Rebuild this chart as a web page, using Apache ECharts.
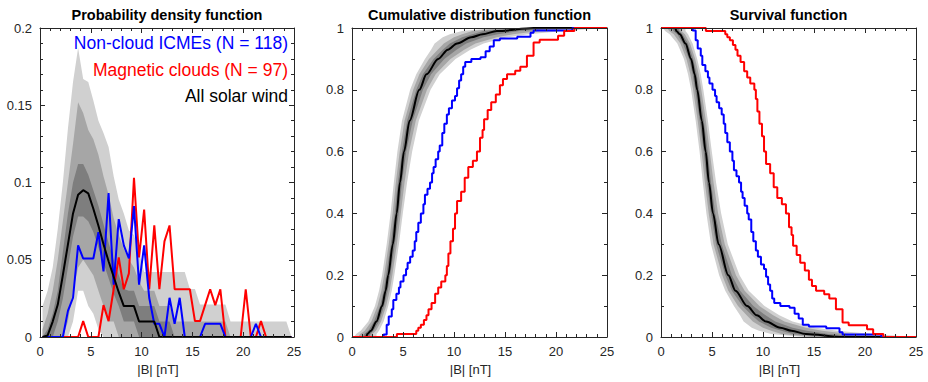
<!DOCTYPE html>
<html><head><meta charset="utf-8">
<script src="https://cdn.jsdelivr.net/npm/echarts@6/dist/echarts.min.js"></script>
<style>html,body{margin:0;padding:0;background:#fff}#c{width:928px;height:382px}</style>
</head><body><div id="c"></div>
<script>
// ---------- PDF panel (bin centres, nT) ----------
const binCenters = [0.25,0.75,1.25,1.75,2.25,2.75,3.25,3.75,4.25,4.75,5.25,5.75,6.25,6.75,7.25,7.75,8.25,8.75,9.25,9.75,10.25,10.75,11.25,11.75,12.25,12.75,13.25,13.75,14.25,14.75,15.25,15.75,16.25,16.75,17.25,17.75,18.25,18.75,19.25,19.75,20.25,20.75,21.25,21.75,22.25,22.75,23.25,23.75,24.25,24.75];
const pdfBlue = [0,0,0,0,0,0.0169,0.0254,0.0593,0.0508,0.0508,0.0508,0.0678,0.0424,0.0932,0.0339,0.0763,0.0593,0.0508,0.0847,0.0339,0.0593,0.0254,0.0085,0.0085,0,0.0254,0.0085,0.0254,0,0,0,0,0.0085,0.0085,0.0085,0.0085,0,0,0,0,0,0,0.0085,0,0,0,0,0,0,0];
const pdfRed = [0,0,0,0,0,0,0,0,0.0103,0,0,0,0.0206,0.0103,0.0309,0.0515,0.0309,0.0412,0.1031,0.0515,0.0825,0.0309,0.0722,0.0309,0.0619,0.0722,0.0309,0.0309,0.0309,0.0309,0.0103,0.0103,0.0206,0.0309,0.0206,0.0309,0,0,0,0,0.0309,0,0,0.0103,0,0,0,0,0,0];
const pdfBlack = [0,0.001,0.01,0.021,0.04,0.06,0.08,0.092,0.095,0.093,0.083,0.072,0.06,0.049,0.039,0.029,0.02,0.02,0.02,0.01,0.01,0.01,0.01,0,0,0,0,0,0,0,0,0,0,0,0,0,0,0,0,0,0,0,0,0,0,0,0,0,0,0];
const pdfLightHi = [0.02,0.03,0.045,0.07,0.1,0.135,0.165,0.187,0.167,0.165,0.153,0.14,0.132,0.123,0.104,0.089,0.08,0.069,0.066,0.055,0.042,0.042,0.042,0.042,0.042,0.042,0.042,0.042,0.042,0.031,0.031,0.021,0.021,0.021,0.021,0.021,0.021,0.01,0.01,0.01,0.01,0.01,0.01,0.01,0.01,0.01,0.01,0.01,0.01,0];
const pdfMedHi = [0.005,0.015,0.03,0.05,0.075,0.1,0.125,0.152,0.145,0.134,0.128,0.118,0.104,0.092,0.077,0.066,0.057,0.05,0.045,0.036,0.03,0.03,0.03,0.02,0.02,0.02,0.01,0.01,0.01,0.01,0.01,0.01,0.01,0.01,0.01,0.01,0.01,0,0,0,0,0,0,0,0,0,0,0,0,0];
const pdfDarkHi = [0,0.005,0.015,0.03,0.055,0.08,0.1,0.112,0.112,0.105,0.095,0.085,0.073,0.061,0.05,0.04,0.031,0.03,0.03,0.02,0.02,0.02,0.02,0.01,0.01,0.01,0,0,0,0,0,0,0,0,0,0,0,0,0,0,0,0,0,0,0,0,0,0,0,0];
const pdfDarkLo = [0,0,0,0.01,0.025,0.045,0.065,0.078,0.078,0.075,0.068,0.058,0.048,0.038,0.028,0.02,0.01,0.01,0.01,0,0,0,0,0,0,0,0,0,0,0,0,0,0,0,0,0,0,0,0,0,0,0,0,0,0,0,0,0,0,0];
const pdfMedLo = [0,0,0,0,0,0.01,0.03,0.045,0.05,0.045,0.04,0.03,0.02,0.01,0.01,0,0,0,0,0,0,0,0,0,0,0,0,0,0,0,0,0,0,0,0,0,0,0,0,0,0,0,0,0,0,0,0,0,0,0];
const pdfLightLo = [0,0,0,0,0,0,0.01,0.03,0.03,0.02,0.015,0.005,0,0,0,0,0,0,0,0,0,0,0,0,0,0,0,0,0,0,0,0,0,0,0,0,0,0,0,0,0,0,0,0,0,0,0,0,0,0];

// ---------- CDF / survival: all solar wind, x (nT) at each cumulative level ----------
const cdfLevels = [0,0.01,0.02,0.05,0.1,0.15,0.2,0.3,0.4,0.5,0.6,0.7,0.8,0.85,0.9,0.93,0.95,0.97,0.98,0.99,1];
const cdfBlackX = [1.4,1.5,1.85,2.4,2.95,3.3,3.55,4.0,4.38,4.7,5.1,5.65,6.6,7.3,8.45,9.4,10.3,11.7,12.8,14.2,17.8];
const cdfLightL = [0.2,0.4,0.85,1.6,2.25,2.65,2.95,3.4,3.78,4.1,4.45,4.9,5.7,6.3,7.15,7.75,8.1,8.9,9.6,10.8,14.0];
const cdfMedL   = [0.6,0.8,1.25,1.9,2.5,2.88,3.15,3.6,3.98,4.3,4.68,5.15,6.0,6.6,7.55,8.4,9.0,10.0,10.8,11.8,14.8];
const cdfDarkL  = [1.1,1.2,1.6,2.15,2.75,3.1,3.35,3.8,4.18,4.5,4.9,5.4,6.3,6.95,8.0,8.9,9.6,10.8,11.8,12.9,16.3];
const cdfDarkR  = [1.7,1.8,2.1,2.65,3.15,3.5,3.75,4.2,4.58,4.9,5.32,5.95,6.95,7.75,9.05,10.25,11.2,12.9,14.3,16.4,20.8];
const cdfMedR   = [2.0,2.0,2.35,2.85,3.35,3.7,3.95,4.4,4.78,5.15,5.6,6.25,7.35,8.2,9.65,11.0,12.1,14.2,15.8,18.4,22.8];
const cdfLightR = [2.4,2.4,2.65,3.1,3.55,3.9,4.15,4.6,4.98,5.4,5.9,6.55,7.7,8.6,10.15,11.6,12.9,15.2,17.3,20.7,24.8];

// ---------- empirical CDF steps (x where the step occurs, level after the step) ----------
const blueStepX = [3.1,3.4,3.6,3.9,4.05,4.35,4.6,4.75,5.05,5.3,5.45,5.7,5.95,6.15,6.3,6.5,6.75,7.0,7.15,7.4,7.65,7.85,8.0,8.2,8.45,8.6,8.85,9.05,9.3,9.5,9.8,10.1,10.3,10.5,10.7,10.9,11.1,11.7,12.6,13.1,13.5,13.9,14.5,16.2,17.5,17.8,21.6];
const blueStepF = [0.008,0.04,0.066,0.09,0.12,0.14,0.16,0.18,0.2,0.22,0.24,0.26,0.28,0.31,0.34,0.37,0.4,0.43,0.46,0.48,0.5,0.53,0.55,0.575,0.6,0.62,0.66,0.69,0.72,0.74,0.765,0.78,0.805,0.83,0.85,0.875,0.89,0.9,0.905,0.925,0.94,0.96,0.966,0.972,0.985,0.992,1.0];
const redStepX = [4.4,6.3,6.5,6.75,7.05,7.3,7.5,7.8,8.15,8.45,8.75,9.15,9.3,9.45,9.65,9.9,10.1,10.3,10.7,11.05,11.4,11.85,12.25,12.55,12.8,12.95,13.3,13.65,14.1,14.5,14.8,15.2,16.0,16.5,17.15,17.8,18.4,20.2,20.8,21.8];
const redStepF = [0.01,0.02,0.03,0.04,0.055,0.07,0.09,0.11,0.14,0.16,0.18,0.2,0.23,0.27,0.31,0.35,0.4,0.44,0.47,0.515,0.55,0.57,0.6,0.645,0.67,0.705,0.735,0.76,0.785,0.815,0.835,0.85,0.862,0.875,0.91,0.953,0.962,0.975,0.99,1.0];

// ---------- text ----------
const panelTitles = ['Probability density function','Cumulative distribution function','Survival function'];
const legendTexts = ['Non-cloud ICMEs (N = 118)','Magnetic clouds (N = 97)','All solar wind'];
const xName = '|B| [nT]';

const LIGHT = '#d0d0d0', MED = '#a6a6a6', DARK = '#7e7e7e';
const BLUE = '#0000ff', RED = '#ff0000', BLACK = '#000000';
const FONT = 'Liberation Sans';
const AX = '#262626';

const grids = [
  {left: 40, top: 28, width: 254, height: 309},
  {left: 352, top: 28, width: 255, height: 309},
  {left: 661, top: 28, width: 255, height: 309}
];

function xAxes(g) {
  const base = {gridIndex: g, type: 'value', min: 0, max: 25, interval: 5, z: 10,
    axisLine: {show: true, onZero: false, lineStyle: {color: AX, width: 1}},
    axisTick: {show: true, inside: true, length: 5, lineStyle: {color: AX}},
    minorTick: {show: true, splitNumber: 5, length: 3, lineStyle: {color: AX}},
    splitLine: {show: false}};
  return [
    Object.assign({}, base, {position: 'bottom', name: xName, nameLocation: 'middle', nameGap: 21,
      nameTextStyle: {fontFamily: FONT, fontSize: 13, color: AX, padding: [0, 18, 0, 0]},
      axisLabel: {show: true, margin: 8, fontFamily: FONT, fontSize: 13, color: AX}}),
    Object.assign({}, base, {position: 'top', axisLabel: {show: false}})
  ];
}
function yAxes(g, max, interval, minorSplit) {
  const base = {gridIndex: g, type: 'value', min: 0, max: max, interval: interval, z: 10,
    axisLine: {show: true, onZero: false, lineStyle: {color: AX, width: 1}},
    axisTick: {show: true, inside: true, length: 5, lineStyle: {color: AX}},
    minorTick: {show: true, splitNumber: minorSplit, length: 3, lineStyle: {color: AX}},
    splitLine: {show: false}};
  return [
    Object.assign({}, base, {position: 'left',
      axisLabel: {show: true, margin: 8, fontFamily: FONT, fontSize: 13, color: AX}}),
    Object.assign({}, base, {position: 'right', axisLabel: {show: false}})
  ];
}

function fillSeries(g, data, color, z) {
  return {type: 'line', xAxisIndex: 2 * g, yAxisIndex: 2 * g, data: data, symbol: 'none',
    lineStyle: {width: 0, opacity: 0}, areaStyle: {color: color, opacity: 1}, silent: true, z: z, animation: false};
}
function lineSeries(g, data, color, opts) {
  return Object.assign({type: 'line', xAxisIndex: 2 * g, yAxisIndex: 2 * g, data: data, symbol: 'none',
    lineStyle: {width: 2, color: color}, silent: true, animation: false, z: 5}, opts || {});
}
const pairs = (xs, ys) => xs.map((x, i) => [x, ys[i]]);

const series = [];
// PDF bands (painted from outermost to innermost, then restored)
series.push(fillSeries(0, pairs(binCenters, pdfLightHi), LIGHT, 2));
series.push(fillSeries(0, pairs(binCenters, pdfMedHi), MED, 2));
series.push(fillSeries(0, pairs(binCenters, pdfDarkHi), DARK, 2));
series.push(fillSeries(0, pairs(binCenters, pdfDarkLo), MED, 2));
series.push(fillSeries(0, pairs(binCenters, pdfMedLo), LIGHT, 2));
series.push(fillSeries(0, pairs(binCenters, pdfLightLo), '#ffffff', 2));
series.push(lineSeries(0, pairs(binCenters, pdfRed), RED));
series.push(lineSeries(0, pairs(binCenters, pdfBlue), BLUE));
series.push(lineSeries(0, pairs(binCenters, pdfBlack), BLACK));

// CDF bands
const cdfPts = xs => pairs(xs, cdfLevels).concat([[25, 1]]);
[[cdfLightL, LIGHT], [cdfMedL, MED], [cdfDarkL, DARK], [cdfDarkR, MED], [cdfMedR, LIGHT], [cdfLightR, '#ffffff']]
  .forEach(([xs, c]) => series.push(fillSeries(1, cdfPts(xs), c, 2)));
series.push(lineSeries(1, [[0, 0]].concat(pairs(cdfBlackX, cdfLevels), [[25, 1]]), BLACK, {smooth: 0.3, smoothMonotone: 'x'}));
series.push(lineSeries(1, [[0, 0]].concat(pairs(blueStepX, blueStepF), [[25, 1]]), BLUE, {step: 'end'}));
series.push(lineSeries(1, [[0, 0]].concat(pairs(redStepX, redStepF), [[25, 1]]), RED, {step: 'end'}));

// Survival bands (1 - CDF)
const survPts = xs => [[0, 1]].concat(xs.map((x, i) => [x, 1 - cdfLevels[i]]));
[[cdfLightR, LIGHT], [cdfMedR, MED], [cdfDarkR, DARK], [cdfDarkL, MED], [cdfMedL, LIGHT], [cdfLightL, '#ffffff']]
  .forEach(([xs, c]) => series.push(fillSeries(2, survPts(xs), c, 2)));
series.push(lineSeries(2, [[0, 1]].concat(cdfBlackX.map((x, i) => [x, 1 - cdfLevels[i]]), [[25, 0]]), BLACK, {smooth: 0.3, smoothMonotone: 'x'}));
series.push(lineSeries(2, [[0, 1]].concat(blueStepX.map((x, i) => [x, 1 - blueStepF[i]]), [[25, 0]]), BLUE, {step: 'end'}));
series.push(lineSeries(2, [[0, 1]].concat(redStepX.map((x, i) => [x, 1 - redStepF[i]]), [[25, 0]]), RED, {step: 'end'}));

const graphic = [];
const centers = grids.map(g => g.left + g.width / 2);
panelTitles.forEach((t, i) => graphic.push({type: 'text', x: centers[i], y: 15, silent: true,
  style: {text: t, fill: '#000', font: 'bold 14.5px "Liberation Sans"', textAlign: 'center', textVerticalAlign: 'middle'}}));
const legColors = [BLUE, RED, BLACK];
legendTexts.forEach((t, i) => graphic.push({type: 'text', x: 288, y: 43 + i * 26.7, silent: true, z: 20,
  style: {text: t, fill: legColors[i], font: '17.5px "Liberation Sans"', textAlign: 'right', textVerticalAlign: 'middle'}}));

const chart = echarts.init(document.getElementById('c'), null, {renderer: 'svg'});
chart.setOption({
  animation: false,
  grid: grids,
  xAxis: [].concat(xAxes(0), xAxes(1), xAxes(2)),
  yAxis: [].concat(yAxes(0, 0.2, 0.05, 5), yAxes(1, 1, 0.2, 2), yAxes(2, 1, 0.2, 2)),
  series: series,
  graphic: graphic
});
</script></body></html>
